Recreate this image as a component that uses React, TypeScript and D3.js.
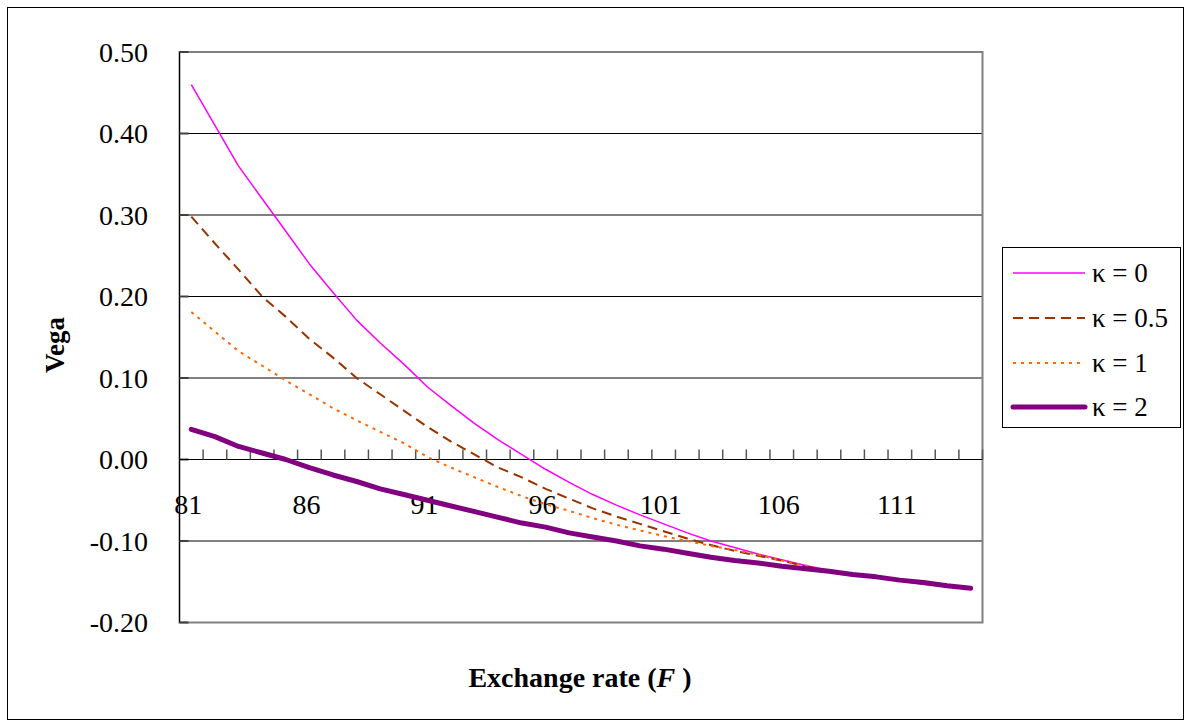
import React from "react";
import * as d3 from "d3";

const categories: number[] = d3.range(81, 115);
const tickLabels: number[] = [81, 86, 91, 96, 101, 106, 111];
const yTicks: number[] = [0.5, 0.4, 0.3, 0.2, 0.1, 0, -0.1, -0.2];

const kappa0: number[] = [0.46, 0.41, 0.36, 0.32, 0.28, 0.24, 0.205, 0.171, 0.143, 0.117, 0.089, 0.066, 0.044, 0.024, 0.006, -0.012, -0.028, -0.043, -0.056, -0.068, -0.079, -0.09, -0.1, -0.108, -0.116, -0.123, -0.13, -0.136, -0.14, -0.144, -0.149, -0.153, -0.156, -0.158];
const kappa05: number[] = [0.298, 0.265, 0.233, 0.2, 0.175, 0.148, 0.125, 0.1, 0.08, 0.06, 0.04, 0.022, 0.006, -0.01, -0.022, -0.036, -0.048, -0.06, -0.07, -0.079, -0.088, -0.097, -0.105, -0.112, -0.118, -0.124, -0.131, -0.137, -0.141, -0.144, -0.148, -0.151, -0.155, -0.158];
const kappa1: number[] = [0.181, 0.157, 0.133, 0.115, 0.097, 0.08, 0.063, 0.048, 0.034, 0.02, 0.003, -0.01, -0.022, -0.034, -0.045, -0.055, -0.063, -0.072, -0.08, -0.087, -0.094, -0.1, -0.106, -0.111, -0.117, -0.124, -0.13, -0.137, -0.141, -0.144, -0.148, -0.151, -0.155, -0.158];
const kappa2: number[] = [0.037, 0.028, 0.016, 0.008, 0.0, -0.01, -0.019, -0.027, -0.036, -0.043, -0.05, -0.057, -0.064, -0.071, -0.078, -0.083, -0.09, -0.095, -0.1, -0.106, -0.11, -0.115, -0.12, -0.124, -0.127, -0.131, -0.134, -0.137, -0.141, -0.144, -0.148, -0.151, -0.155, -0.158];

const seriesNames: string[] = ["κ = 0", "κ = 0.5", "κ = 1", "κ = 2"];

const styles = [
  { color: "#FF00FF", width: 1.5, dash: "" },
  { color: "#993300", width: 2, dash: "10,6" },
  { color: "#FF6600", width: 2, dash: "3,5" },
  { color: "#800080", width: 5, dash: "" },
];

export default function App() {
  const W = 1184, H = 720;
  const left = 179.5, right = 982.5, top = 52, bottom = 622.5;
  const x = d3.scaleBand<number>().domain(categories).range([left, right]);
  const y = d3.scaleLinear().domain([-0.2, 0.5]).range([bottom, top]);
  const cx = (c: number) => (x(c) as number) + x.bandwidth() / 2;
  const allSeries = [kappa0, kappa05, kappa1, kappa2];
  const line = d3
    .line<number>()
    .x((_, i) => cx(categories[i]))
    .y((d) => y(d));
  const font = "'Liberation Serif', 'Times New Roman', serif";
  const y0 = y(0);
  const legY = [273, 318, 363, 407];
  const fmt = (t: number) => d3.format(".2f")(t).replace("\u2212", "-");

  return (
    <svg width={W} height={H} style={{ position: "absolute", left: 0, top: 0, background: "#fff" }} fontFamily={font}>
      <rect x={7.5} y={7.5} width={1176} height={712} fill="#fff" stroke="#000" strokeWidth={1} />
      {yTicks.filter((t) => t !== 0).map((t) => (
        <line key={t} x1={left} x2={right} y1={y(t)} y2={y(t)} stroke="#000" strokeWidth={1} />
      ))}
      <rect x={left} y={top} width={right - left} height={bottom - top} fill="none" stroke="#808080" strokeWidth={2} />
      <line x1={left} x2={left} y1={top} y2={bottom} stroke="#000" strokeWidth={1} />
      {yTicks.map((t) => (
        <line key={"lt" + t} x1={left} x2={left + 9} y1={y(t)} y2={y(t)} stroke="#404040" strokeWidth={2} />
      ))}
      {yTicks.map((t) => (
        <text key={"yl" + t} x={148} y={y(t)} dy="0.35em" textAnchor="end" fontSize={28} fontFamily={font}>
          {fmt(t)}
        </text>
      ))}
      <line x1={left} x2={right} y1={y0} y2={y0} stroke="#000" strokeWidth={1} />
      {categories.map((c) => (
        <line key={"xt" + c} x1={(x(c) as number) + x.bandwidth()} x2={(x(c) as number) + x.bandwidth()} y1={y0} y2={y0 - 10} stroke="#555" strokeWidth={1.5} />
      ))}
      {tickLabels.map((c) => (
        <text key={"xl" + c} x={cx(c) - 3} y={514} textAnchor="middle" fontSize={28} fontFamily={font}>
          {c}
        </text>
      ))}
      {allSeries.map((s, i) => (
        <path
          key={"s" + i}
          d={line(s) as string}
          fill="none"
          stroke={styles[i].color}
          strokeWidth={styles[i].width}
          strokeDasharray={styles[i].dash}
          strokeLinejoin="round"
          strokeLinecap={i === 3 ? "round" : "butt"}
        />
      ))}
      <rect x={1002.5} y={247.5} width={178} height={180} fill="#fff" stroke="#000" strokeWidth={1} />
      {seriesNames.map((n, i) => (
        <g key={"lg" + i}>
          <line x1={1013} x2={1085} y1={legY[i]} y2={legY[i]} stroke={styles[i].color} strokeWidth={styles[i].width} strokeDasharray={styles[i].dash} strokeLinecap={i === 3 ? "round" : "butt"} />
          <text x={1092} y={legY[i]} dy="0.35em" fontSize={27} fontFamily={font}>
            {n}
          </text>
        </g>
      ))}
      <text transform="translate(64,345) rotate(-90)" textAnchor="middle" fontSize={27} fontWeight="bold" fontFamily={font}>
        Vega
      </text>
      <text x={580} y={687} textAnchor="middle" fontSize={28} fontWeight="bold" fontFamily={font}>
        Exchange rate (<tspan fontStyle="italic">F</tspan> )
      </text>
    </svg>
  );
}
